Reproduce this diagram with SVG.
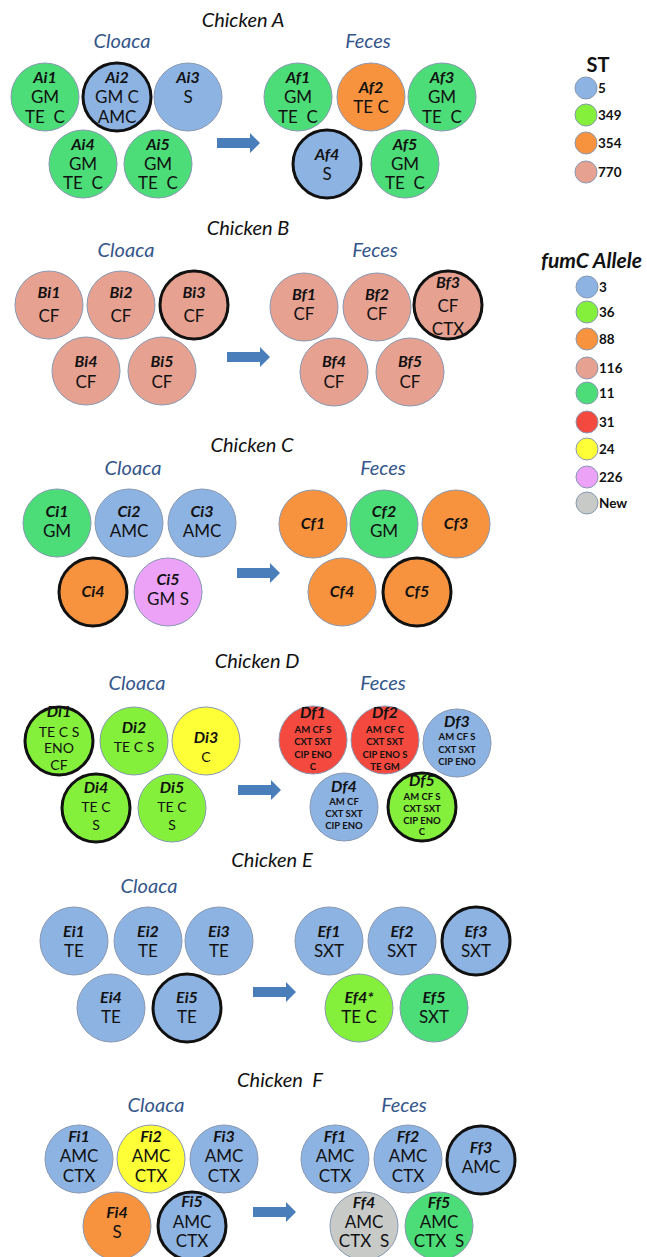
<svg xmlns="http://www.w3.org/2000/svg" width="647" height="1257" viewBox="0 0 647 1257">
<style>
text{text-anchor:middle;font-family:Lato,"Liberation Sans",sans-serif;fill:#111}
.t{font-style:italic;font-size:20px}
.s{font-style:italic;font-size:20px;fill:#34568b}
.l{font-style:italic;font-weight:bold;font-size:16px}
.x{font-size:17px}
.m{font-size:14px}
.sm{font-size:9.5px;font-weight:bold}
circle{stroke:#8898b2;stroke-width:1}
.k{stroke:#111;stroke-width:3}
.b{fill:#8db3e2}.g{fill:#4cdd78}.lm{fill:#84f03c}.o{fill:#f7933f}.p{fill:#e6a191}
.r{fill:#f4493e}.y{fill:#ffff38}.pk{fill:#eba2f7}.gr{fill:#c8cac8}
.arr{fill:#4a7ebb}
.lg{text-anchor:start;font-weight:bold;font-size:13.5px}
</style>
<defs>
<path id="ar" d="M0,-5 H33 V-10 L43,0 L33,10 V5 H0 Z"/>
</defs>

<g id="titles">
<text class="t" x="243" y="27">Chicken A</text>
<text class="s" x="122" y="48">Cloaca</text>
<text class="s" x="368" y="48">Feces</text>
<text class="t" x="248" y="235">Chicken B</text>
<text class="s" x="126" y="257">Cloaca</text>
<text class="s" x="375" y="257">Feces</text>
<text class="t" x="252" y="452">Chicken C</text>
<text class="s" x="133" y="475">Cloaca</text>
<text class="s" x="383" y="475">Feces</text>
<text class="t" x="257" y="668">Chicken D</text>
<text class="s" x="137" y="690">Cloaca</text>
<text class="s" x="383" y="690">Feces</text>
<text class="t" x="272" y="867">Chicken E</text>
<text class="s" x="149" y="893">Cloaca</text>
<text class="t" x="280" y="1087" style="white-space:pre">Chicken  F</text>
<text class="s" x="156" y="1112">Cloaca</text>
<text class="s" x="404" y="1112">Feces</text>
</g>

<g id="connectors">
<use href="#ar" class="arr" x="217" y="143"/>
<use href="#ar" class="arr" x="227" y="357"/>
<use href="#ar" class="arr" x="237" y="573"/>
<use href="#ar" class="arr" x="238" y="790"/>
<use href="#ar" class="arr" x="253" y="992"/>
<use href="#ar" class="arr" x="253" y="1212"/>
</g>

<!-- Chicken A -->
<g id="Ai1"><circle class="g" cx="45" cy="97" r="34"/><text class="l" x="45" y="83">Ai1</text><text class="x" x="45" y="103">GM</text><text class="x" x="45" y="123">TE&#160; C</text></g>
<g id="Ai2"><circle class="b k" cx="117" cy="97" r="34"/><text class="l" x="117" y="83">Ai2</text><text class="x" x="117" y="103">GM C</text><text class="x" x="117" y="123">AMC</text></g>
<g id="Ai3"><circle class="b" cx="188" cy="97" r="34"/><text class="l" x="188" y="83">Ai3</text><text class="x" x="188" y="103">S</text></g>
<g id="Ai4"><circle class="g" cx="83" cy="164" r="34"/><text class="l" x="83" y="150">Ai4</text><text class="x" x="83" y="170">GM</text><text class="x" x="83" y="189">TE&#160; C</text></g>
<g id="Ai5"><circle class="g" cx="158" cy="164" r="34"/><text class="l" x="158" y="150">Ai5</text><text class="x" x="158" y="170">GM</text><text class="x" x="158" y="189">TE&#160; C</text></g>
<g id="Af1"><circle class="g" cx="298" cy="97" r="34"/><text class="l" x="298" y="83">Af1</text><text class="x" x="298" y="103">GM</text><text class="x" x="298" y="123">TE&#160; C</text></g>
<g id="Af2"><circle class="o" cx="371" cy="97" r="34"/><text class="l" x="371" y="93">Af2</text><text class="x" x="371" y="113">TE C</text></g>
<g id="Af3"><circle class="g" cx="442" cy="97" r="34"/><text class="l" x="442" y="83">Af3</text><text class="x" x="442" y="103">GM</text><text class="x" x="442" y="123">TE&#160; C</text></g>
<g id="Af4"><circle class="b k" cx="327" cy="164" r="34"/><text class="l" x="327" y="160">Af4</text><text class="x" x="327" y="180">S</text></g>
<g id="Af5"><circle class="g" cx="405" cy="164" r="34"/><text class="l" x="405" y="150">Af5</text><text class="x" x="405" y="170">GM</text><text class="x" x="405" y="189">TE&#160; C</text></g>

<!-- Chicken B -->
<g id="Bi1"><circle class="p" cx="49" cy="305" r="34"/><text class="l" x="49" y="298">Bi1</text><text class="x" x="49" y="322">CF</text></g>
<g id="Bi2"><circle class="p" cx="121" cy="305" r="34"/><text class="l" x="121" y="298">Bi2</text><text class="x" x="121" y="322">CF</text></g>
<g id="Bi3"><circle class="p k" cx="194" cy="305" r="34"/><text class="l" x="194" y="298">Bi3</text><text class="x" x="194" y="322">CF</text></g>
<g id="Bi4"><circle class="p" cx="86" cy="371" r="34"/><text class="l" x="86" y="367">Bi4</text><text class="x" x="86" y="388">CF</text></g>
<g id="Bi5"><circle class="p" cx="162" cy="371" r="34"/><text class="l" x="162" y="367">Bi5</text><text class="x" x="162" y="388">CF</text></g>
<g id="Bf1"><circle class="p" cx="304" cy="307" r="34"/><text class="l" x="304" y="300">Bf1</text><text class="x" x="304" y="320">CF</text></g>
<g id="Bf2"><circle class="p" cx="377" cy="307" r="34"/><text class="l" x="377" y="300">Bf2</text><text class="x" x="377" y="320">CF</text></g>
<g id="Bf3"><circle class="p k" cx="448" cy="305" r="34"/><text class="l" x="448" y="288">Bf3</text><text class="x" x="448" y="312">CF</text><text class="x" x="448" y="335">CTX</text></g>
<g id="Bf4"><circle class="p" cx="334" cy="372" r="34"/><text class="l" x="334" y="367">Bf4</text><text class="x" x="334" y="388">CF</text></g>
<g id="Bf5"><circle class="p" cx="410" cy="372" r="34"/><text class="l" x="410" y="367">Bf5</text><text class="x" x="410" y="388">CF</text></g>

<!-- Chicken C -->
<g id="Ci1"><circle class="g" cx="57" cy="523" r="34"/><text class="l" x="57" y="517">Ci1</text><text class="x" x="57" y="537">GM</text></g>
<g id="Ci2"><circle class="b" cx="129" cy="523" r="34"/><text class="l" x="129" y="517">Ci2</text><text class="x" x="129" y="537">AMC</text></g>
<g id="Ci3"><circle class="b" cx="202" cy="523" r="34"/><text class="l" x="202" y="517">Ci3</text><text class="x" x="202" y="537">AMC</text></g>
<g id="Ci4"><circle class="o k" cx="93" cy="592" r="34"/><text class="l" x="93" y="597">Ci4</text></g>
<g id="Ci5"><circle class="pk" cx="168" cy="592" r="34"/><text class="l" x="168" y="585">Ci5</text><text class="x" x="168" y="605">GM S</text></g>
<g id="Cf1"><circle class="o" cx="313" cy="524" r="34"/><text class="l" x="313" y="529">Cf1</text></g>
<g id="Cf2"><circle class="g" cx="384" cy="524" r="34"/><text class="l" x="384" y="517">Cf2</text><text class="x" x="384" y="537">GM</text></g>
<g id="Cf3"><circle class="o" cx="456" cy="524" r="34"/><text class="l" x="456" y="529">Cf3</text></g>
<g id="Cf4"><circle class="o" cx="342" cy="592" r="34"/><text class="l" x="342" y="597">Cf4</text></g>
<g id="Cf5"><circle class="o k" cx="417" cy="592" r="34"/><text class="l" x="417" y="597">Cf5</text></g>

<!-- Chicken D -->
<g id="Di1"><circle class="lm k" cx="59" cy="741" r="34"/><text class="l" x="59" y="717">Di1</text><text class="m" x="59" y="737">TE C S</text><text class="m" x="59" y="753">ENO</text><text class="m" x="59" y="770">CF</text></g>
<g id="Di2"><circle class="lm" cx="134" cy="741" r="34"/><text class="l" x="134" y="733">Di2</text><text class="m" x="134" y="752">TE C S</text></g>
<g id="Di3"><circle class="y" cx="206" cy="741" r="34"/><text class="l" x="206" y="743">Di3</text><text class="m" x="206" y="762">C</text></g>
<g id="Di4"><circle class="lm k" cx="96" cy="808" r="34"/><text class="l" x="96" y="793">Di4</text><text class="m" x="96" y="812">TE C</text><text class="m" x="96" y="830">S</text></g>
<g id="Di5"><circle class="lm" cx="172" cy="808" r="34"/><text class="l" x="172" y="793">Di5</text><text class="m" x="172" y="812">TE C</text><text class="m" x="172" y="830">S</text></g>
<g id="Df1"><circle class="r" cx="313" cy="740" r="34"/><text class="l" x="313" y="718">Df1</text><text class="sm" x="313" y="733">AM CF S</text><text class="sm" x="313" y="745">CXT SXT</text><text class="sm" x="313" y="758">CIP ENO</text><text class="sm" x="313" y="770">C</text></g>
<g id="Df2"><circle class="r" cx="385" cy="740" r="34"/><text class="l" x="385" y="718">Df2</text><text class="sm" x="385" y="733">AM CF C</text><text class="sm" x="385" y="745">CXT SXT</text><text class="sm" x="385" y="758">CIP ENO S</text><text class="sm" x="385" y="770">TE GM</text></g>
<g id="Df3"><circle class="b" cx="457" cy="743" r="34"/><text class="l" x="457" y="727">Df3</text><text class="sm" x="457" y="740">AM CF S</text><text class="sm" x="457" y="753">CXT SXT</text><text class="sm" x="457" y="765">CIP ENO</text></g>
<g id="Df4"><circle class="b" cx="344" cy="807" r="34"/><text class="l" x="344" y="792">Df4</text><text class="sm" x="344" y="805">AM CF</text><text class="sm" x="344" y="817">CXT SXT</text><text class="sm" x="344" y="829">CIP ENO</text></g>
<g id="Df5"><circle class="lm k" cx="422" cy="807" r="34"/><text class="l" x="422" y="786">Df5</text><text class="sm" x="422" y="800">AM CF S</text><text class="sm" x="422" y="812">CXT SXT</text><text class="sm" x="422" y="824">CIP ENO</text><text class="sm" x="422" y="835">C</text></g>

<!-- Chicken E -->
<g id="Ei1"><circle class="b" cx="74" cy="941" r="34"/><text class="l" x="74" y="937">Ei1</text><text class="x" x="74" y="957">TE</text></g>
<g id="Ei2"><circle class="b" cx="148" cy="941" r="34"/><text class="l" x="148" y="937">Ei2</text><text class="x" x="148" y="957">TE</text></g>
<g id="Ei3"><circle class="b" cx="219" cy="941" r="34"/><text class="l" x="219" y="937">Ei3</text><text class="x" x="219" y="957">TE</text></g>
<g id="Ei4"><circle class="b" cx="111" cy="1008" r="34"/><text class="l" x="111" y="1003">Ei4</text><text class="x" x="111" y="1023">TE</text></g>
<g id="Ei5"><circle class="b k" cx="187" cy="1008" r="34"/><text class="l" x="187" y="1003">Ei5</text><text class="x" x="187" y="1023">TE</text></g>
<g id="Ef1"><circle class="b" cx="329" cy="941" r="34"/><text class="l" x="329" y="937">Ef1</text><text class="x" x="329" y="957">SXT</text></g>
<g id="Ef2"><circle class="b" cx="402" cy="941" r="34"/><text class="l" x="402" y="937">Ef2</text><text class="x" x="402" y="957">SXT</text></g>
<g id="Ef3"><circle class="b k" cx="476" cy="941" r="34"/><text class="l" x="476" y="937">Ef3</text><text class="x" x="476" y="957">SXT</text></g>
<g id="Ef4"><circle class="lm" cx="359" cy="1008" r="34"/><text class="l" x="359" y="1003">Ef4*</text><text class="x" x="359" y="1023">TE C</text></g>
<g id="Ef5"><circle class="g" cx="434" cy="1008" r="34"/><text class="l" x="434" y="1003">Ef5</text><text class="x" x="434" y="1023">SXT</text></g>

<!-- Chicken F -->
<g id="Fi1"><circle class="b" cx="79" cy="1159" r="34"/><text class="l" x="79" y="1142">Fi1</text><text class="x" x="79" y="1162">AMC</text><text class="x" x="79" y="1182">CTX</text></g>
<g id="Fi2"><circle class="y" cx="151" cy="1159" r="34"/><text class="l" x="151" y="1142">Fi2</text><text class="x" x="151" y="1162">AMC</text><text class="x" x="151" y="1182">CTX</text></g>
<g id="Fi3"><circle class="b" cx="224" cy="1159" r="34"/><text class="l" x="224" y="1142">Fi3</text><text class="x" x="224" y="1162">AMC</text><text class="x" x="224" y="1182">CTX</text></g>
<g id="Fi4"><circle class="o" cx="117" cy="1226" r="34"/><text class="l" x="117" y="1218">Fi4</text><text class="x" x="117" y="1238">S</text></g>
<g id="Fi5"><circle class="b k" cx="192" cy="1226" r="34"/><text class="l" x="192" y="1207">Fi5</text><text class="x" x="192" y="1228">AMC</text><text class="x" x="192" y="1247">CTX</text></g>
<g id="Ff1"><circle class="b" cx="335" cy="1159" r="34"/><text class="l" x="335" y="1142">Ff1</text><text class="x" x="335" y="1162">AMC</text><text class="x" x="335" y="1182">CTX</text></g>
<g id="Ff2"><circle class="b" cx="408" cy="1159" r="34"/><text class="l" x="408" y="1142">Ff2</text><text class="x" x="408" y="1162">AMC</text><text class="x" x="408" y="1182">CTX</text></g>
<g id="Ff3"><circle class="b k" cx="481" cy="1160" r="34"/><text class="l" x="481" y="1153">Ff3</text><text class="x" x="481" y="1173">AMC</text></g>
<g id="Ff4"><circle class="gr" cx="364" cy="1226" r="34"/><text class="l" x="364" y="1208">Ff4</text><text class="x" x="364" y="1228">AMC</text><text class="x" x="364" y="1247">CTX&#160; S</text></g>
<g id="Ff5"><circle class="g" cx="439" cy="1226" r="34"/><text class="l" x="439" y="1208">Ff5</text><text class="x" x="439" y="1228">AMC</text><text class="x" x="439" y="1247">CTX&#160; S</text></g>

<!-- Legend ST -->
<g id="legend-st">
<text x="598" y="72" style="font-weight:bold;font-size:20px">ST</text>
<circle class="b" cx="586" cy="88" r="11"/><text class="lg" x="598" y="93">5</text>
<circle class="lm" cx="586" cy="115" r="11"/><text class="lg" x="598" y="120">349</text>
<circle class="o" cx="586" cy="143" r="11"/><text class="lg" x="598" y="148">354</text>
<circle class="p" cx="586" cy="172" r="11"/><text class="lg" x="598" y="177">770</text>
</g>

<!-- Legend fumC -->
<g id="legend-fumc">
<text x="541" y="268" style="text-anchor:start;font-weight:bold;font-style:italic;font-size:21px">fumC Allele</text>
<circle class="b" cx="587" cy="287" r="11"/><text class="lg" x="599" y="292">3</text>
<circle class="lm" cx="587" cy="312" r="11"/><text class="lg" x="599" y="317">36</text>
<circle class="o" cx="587" cy="339" r="11"/><text class="lg" x="599" y="344">88</text>
<circle class="p" cx="587" cy="368" r="11"/><text class="lg" x="599" y="373">116</text>
<circle class="g" cx="587" cy="393" r="11"/><text class="lg" x="599" y="398">11</text>
<circle class="r" cx="587" cy="422" r="11"/><text class="lg" x="599" y="427">31</text>
<circle class="y" cx="587" cy="449" r="11"/><text class="lg" x="599" y="454">24</text>
<circle class="pk" cx="587" cy="477" r="11"/><text class="lg" x="599" y="482">226</text>
<circle class="gr" cx="587" cy="503" r="11"/><text class="lg" x="599" y="508">New</text>
</g>
</svg>
